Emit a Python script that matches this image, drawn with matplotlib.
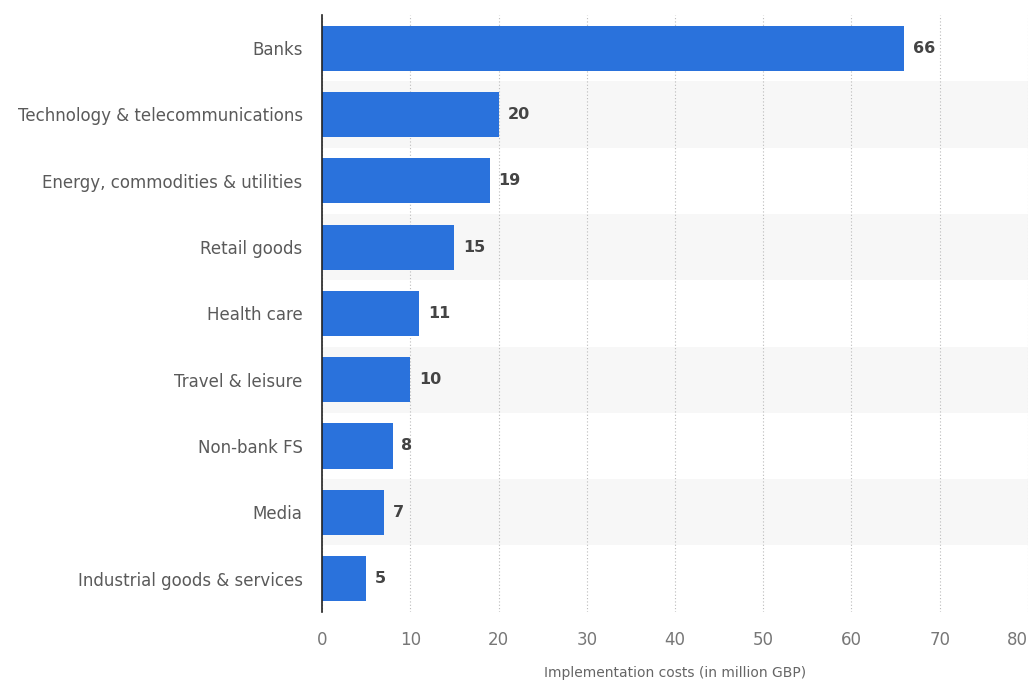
import matplotlib.pyplot as plt

sectors = ['Banks', 'Technology & telecommunications', 'Energy, commodities & utilities',
           'Retail goods', 'Health care', 'Travel & leisure', 'Non-bank FS', 'Media',
           'Industrial goods & services']
costs = [66, 20, 19, 15, 11, 10, 8, 7, 5]
xticks = [0, 10, 20, 30, 40, 50, 60, 70, 80]

fig = plt.figure(figsize=(10.29, 6.82), dpi=100)
ax = fig.add_axes([0.313, 0.103, 0.686, 0.875])

pos = list(range(len(sectors)))
for i in pos:
    if i % 2 == 1:
        ax.axhspan(i - 0.5, i + 0.5, color='#f7f7f7', zorder=0, lw=0)

ax.barh(pos, costs, height=0.68, color='#2a72dc', zorder=3)
for i, v in zip(pos, costs):
    ax.text(v + 1.0, i, str(v), va='center', ha='left', fontsize=11.5,
            fontweight='bold', color='#444444', zorder=4)

ax.set_ylim(len(sectors) - 0.5, -0.5)
ax.set_xlim(0, 80)
ax.set_yticks(pos)
ax.set_yticklabels(sectors, fontsize=12, color='#5a5a5a')
ax.set_xticks(xticks)
ax.set_xticklabels([str(t) for t in xticks], fontsize=12, color='#777777')
ax.get_xticklabels()[-1].set_ha('right')
ax.tick_params(axis='both', length=0)
ax.tick_params(axis='y', pad=14)
ax.tick_params(axis='x', pad=14)
ax.grid(axis='x', linestyle=(0, (1, 2)), color='#bbbbbb', lw=0.8, zorder=1)
ax.set_axisbelow(True)
for s in ['top', 'right', 'bottom']:
    ax.spines[s].set_visible(False)
ax.spines['left'].set_color('#222222')
ax.spines['left'].set_linewidth(1.2)
ax.spines['left'].set_zorder(5)
ax.set_xlabel('Implementation costs (in million GBP)', fontsize=10, color='#666666', labelpad=12)

plt.savefig('out.png', dpi=100)
